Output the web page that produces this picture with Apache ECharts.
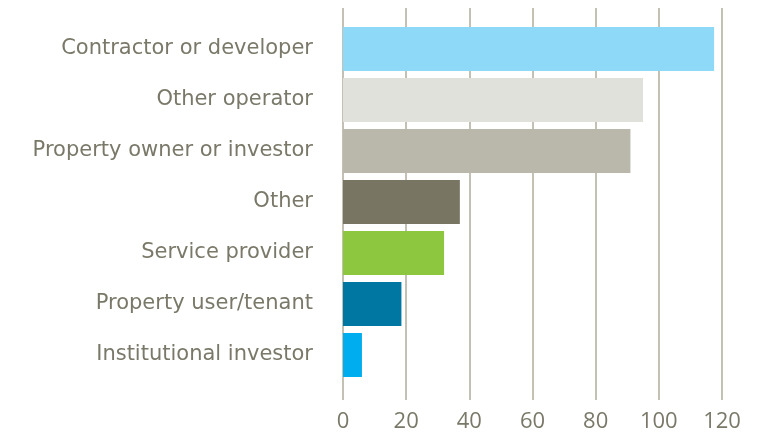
<!DOCTYPE html>
<html>
<head>
<meta charset="utf-8">
<script src="https://cdn.jsdelivr.net/npm/echarts@6/dist/echarts.min.js"></script>
<style>
  html, body { margin: 0; padding: 0; background: #fff; }
  #chart { width: 775px; height: 435px; }
</style>
</head>
<body>
<div id="chart"></div>
<script>
const categories = [
  "Contractor or developer",
  "Other operator",
  "Property owner or investor",
  "Other",
  "Service provider",
  "Property user/tenant",
  "Institutional investor"
];
const values = [117.5, 95, 91, 37, 32, 18.5, 6];
const barColors = ["#8ED8F8", "#E1E1DB", "#B9B8AA", "#787563", "#8DC63F", "#0077A3", "#00AEEF"];
const xTicks = { min: 0, max: 120, interval: 20 };

const textColor = "#7a7969";

const chart = echarts.init(document.getElementById("chart"));

chart.setOption({
  animation: false,
  grid: [
    // bars
    { left: 343, right: 53, top: 23.5, height: 357 },
    // gridlines + tick labels, a bit taller than the bars
    { left: 343, right: 53, top: 8, height: 392 }
  ],
  xAxis: [
    {
      gridIndex: 0, type: "value", min: xTicks.min, max: xTicks.max, interval: xTicks.interval,
      axisLine: { show: false }, axisTick: { show: false }, axisLabel: { show: false },
      splitLine: { show: false }
    },
    {
      gridIndex: 1, type: "value", min: xTicks.min, max: xTicks.max, interval: xTicks.interval,
      axisLine: { show: false }, axisTick: { show: false },
      axisLabel: { color: textColor, fontFamily: "Open Sans", fontSize: 22, margin: 11 },
      splitLine: { show: true, lineStyle: { color: "#c2c1b4", width: 2 } }
    }
  ],
  yAxis: [
    {
      gridIndex: 0, type: "category", data: categories, inverse: true,
      axisLine: { show: false }, axisTick: { show: false },
      axisLabel: { color: textColor, fontFamily: "DejaVu Sans", fontSize: 21, margin: 30 }
    },
    {
      gridIndex: 1, type: "category", data: categories, show: false
    }
  ],
  series: [
    {
      type: "bar",
      xAxisIndex: 0,
      yAxisIndex: 0,
      barWidth: 44,
      z: 3,
      data: values.map((v, i) => ({ value: v, itemStyle: { color: barColors[i] } }))
    }
  ]
});

window.addEventListener("resize", () => chart.resize());
</script>
</body>
</html>
